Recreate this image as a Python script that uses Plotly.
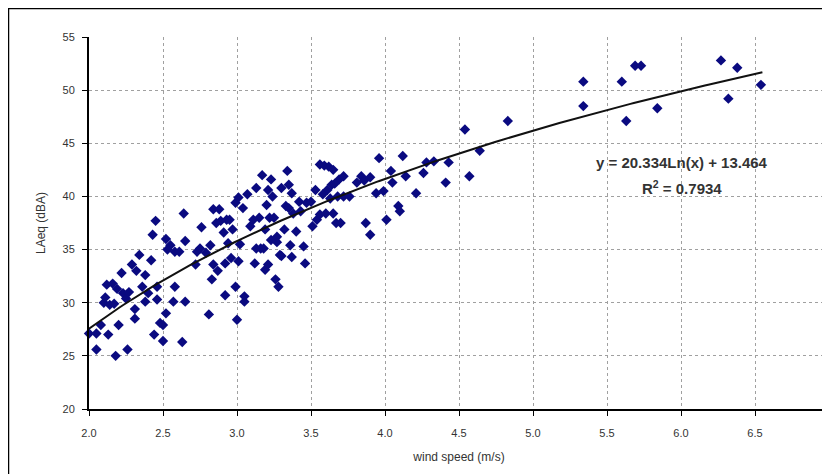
import numpy as np
import plotly.graph_objects as go

wind_speed = [2.00, 2.05, 2.05, 2.08, 2.10, 2.11, 2.12, 2.13, 2.16, 2.18, 2.19, 2.20, 2.22, 2.23,
              2.26, 2.25, 2.29, 2.31, 2.31, 2.34, 2.32, 2.36, 2.38, 2.38, 2.40, 2.42, 2.43, 2.44,
              2.45, 2.46, 2.46, 2.48, 2.50, 2.50, 2.52, 2.52, 2.55, 2.57, 2.58, 2.58, 2.61, 2.63,
              2.64, 2.65, 2.65, 2.72, 2.73, 2.76, 2.75, 2.79, 2.81, 2.82, 2.83, 2.84, 2.84, 2.86,
              2.87, 2.88, 2.89, 2.91, 2.92, 2.92, 2.93, 2.94, 2.95, 2.97, 2.99, 2.99, 3.00, 3.01,
              3.01, 3.04, 3.05, 3.05, 3.07, 3.09, 3.12, 3.13, 3.13, 3.15, 3.16, 3.17, 3.18, 3.19,
              3.19, 3.21, 3.21, 3.22, 3.23, 3.23, 3.24, 3.25, 3.26, 3.27, 3.28, 3.29, 3.30, 3.30,
              3.32, 3.33, 3.34, 3.35, 3.36, 3.37, 3.37, 3.38, 3.40, 3.42, 3.45, 3.46, 3.47, 3.50,
              3.51, 3.53, 3.54, 3.56, 3.56, 3.59, 3.60, 3.61, 3.62, 3.64, 3.65, 3.65, 3.67, 3.68,
              3.69, 3.70, 3.72, 3.72, 3.76, 3.81, 3.84, 3.86, 3.87, 3.90, 3.90, 3.94, 3.96, 3.99,
              4.01, 4.04, 4.05, 4.09, 4.10, 4.12, 4.14, 4.21, 4.26, 4.28, 4.33, 4.41, 4.43, 4.54,
              4.57, 4.64, 4.83, 5.34, 5.34, 5.60, 5.63, 5.69, 5.73, 5.84, 6.27, 6.32, 6.38, 6.54,
              2.14, 2.17, 2.27, 2.53, 3.11, 3.20, 3.27, 3.43, 3.58, 3.63, 3.66, 3.35, 3.02, 2.96]
laeq = [27.1, 27.1, 25.6, 27.9, 30.0, 30.5, 31.7, 27.0, 31.8, 25.0, 31.3, 27.9, 32.8, 30.9,
        25.6, 30.4, 33.6, 29.4, 28.5, 34.5, 33.0, 31.5, 32.6, 30.1, 30.9, 34.0, 36.4, 27.0,
        37.7, 30.3, 31.5, 28.1, 27.9, 26.4, 29.0, 36.0, 35.4, 30.1, 31.5, 34.8, 34.8, 26.3,
        38.4, 35.8, 30.1, 33.6, 34.8, 37.1, 35.1, 34.7, 28.9, 35.4, 32.2, 33.6, 38.8, 37.5,
        33.0, 38.8, 37.7, 36.6, 33.7, 30.7, 37.8, 35.6, 37.8, 36.9, 39.4, 31.5, 28.4, 39.9,
        33.9, 38.9, 30.1, 30.6, 40.2, 37.2, 33.7, 40.8, 35.1, 38.0, 35.1, 42.0, 35.1, 36.9,
        33.1, 40.6, 33.6, 38.0, 41.6, 35.9, 40.0, 38.0, 32.2, 35.7, 31.5, 34.5, 40.8, 34.4,
        36.9, 39.1, 42.4, 41.1, 35.4, 34.3, 40.3, 38.4, 36.7, 39.5, 35.3, 33.7, 39.4, 39.5,
        37.2, 40.6, 37.8, 43.0, 38.3, 42.9, 38.4, 40.6, 42.8, 41.1, 42.5, 38.4, 37.5, 40.0,
        41.6, 37.5, 41.9, 40.0, 40.0, 41.3, 41.9, 41.5, 37.5, 36.4, 41.8, 40.3, 43.6, 40.5,
        37.8, 42.4, 41.3, 39.1, 38.6, 43.8, 41.9, 40.3, 42.2, 43.2, 43.3, 41.3, 43.2, 46.3,
        41.9, 44.3, 47.1, 48.5, 50.8, 50.8, 47.1, 52.3, 52.3, 48.3, 52.8, 49.2, 52.1, 50.5,
        29.8, 29.9, 31.0, 35.0, 37.8, 39.2, 36.2, 38.6, 40.2, 39.8, 41.2, 38.9, 35.5, 34.2]

trend_a = 20.334
trend_b = 13.464
trend_x_min = 2.0
trend_x_max = 6.55
equation_text = "<b>y = 20.334Ln(x) + 13.464</b>"
r2_text = "<b>R<sup>2</sup> = 0.7934</b>"

x_ticks = [2.0, 2.5, 3.0, 3.5, 4.0, 4.5, 5.0, 5.5, 6.0, 6.5, 7.0]
y_ticks = [20, 25, 30, 35, 40, 45, 50, 55]

tx = np.linspace(trend_x_min, trend_x_max, 200)
ty = trend_a * np.log(tx) + trend_b

FONT = "Liberation Sans, Arial, sans-serif"

fig = go.Figure()
fig.add_trace(go.Scatter(x=wind_speed, y=laeq, mode="markers",
                         marker=dict(symbol="diamond", size=8, color="#0a0a80"),
                         showlegend=False, cliponaxis=False))
fig.add_trace(go.Scatter(x=tx, y=ty, mode="lines",
                         line=dict(color="#111111", width=2),
                         showlegend=False, cliponaxis=False))

fig.add_annotation(x=6.01, y=43.2, text=equation_text, showarrow=False,
                   font=dict(family=FONT, size=15, color="#333333"),
                   xanchor="center", yanchor="middle")
fig.add_annotation(x=6.01, y=40.8, text=r2_text, showarrow=False,
                   font=dict(family=FONT, size=15, color="#333333"),
                   xanchor="center", yanchor="middle")

# outer chart frame (figure starts 8px inside the window)
fig.add_shape(type="rect", xref="paper", yref="paper",
              x0=(0.5 - 81) / 740, x1=1.2, y0=-0.3, y1=1 + (29 - 0.5) / 372,
              line=dict(color="#000000", width=1.5), layer="below")

tickfont = dict(family=FONT, size=11, color="#333333")
titlefont = dict(family=FONT, size=12, color="#333333")
fig.update_xaxes(range=[2.0, 7.0], tickvals=x_ticks, ticktext=[f"{v:.1f}" for v in x_ticks],
                 showgrid=True, gridcolor="#a0a0a0", griddash="dot", gridwidth=1,
                 showline=True, linecolor="#000000", linewidth=2,
                 ticks="outside", ticklen=5, tickcolor="#000000", tickfont=tickfont,
                 ticklabelstandoff=8,
                 title=dict(text="wind speed (m/s)", font=titlefont, standoff=14),
                 zeroline=False, mirror=False)
fig.update_yaxes(range=[20, 55], tickvals=y_ticks,
                 showgrid=True, gridcolor="#a0a0a0", griddash="dot", gridwidth=1,
                 showline=True, linecolor="#000000", linewidth=2,
                 ticks="outside", ticklen=5, tickcolor="#000000", tickfont=tickfont,
                 ticklabelstandoff=5,
                 title=dict(text="LAeq (dBA)", font=titlefont, standoff=14),
                 zeroline=False)
fig.update_layout(width=822, height=466,
                  margin=dict(l=81, r=1, t=29, b=65),
                  plot_bgcolor="white", paper_bgcolor="white")
fig.write_html("out.html")
